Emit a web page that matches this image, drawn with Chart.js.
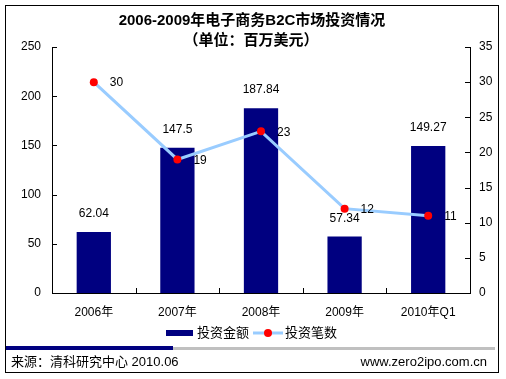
<!DOCTYPE html>
<html>
<head>
<meta charset="utf-8">
<script src="https://cdn.jsdelivr.net/npm/chart.js@4/dist/chart.umd.min.js"></script>
<style>
html,body{margin:0;padding:0;background:#fff;}
#wrap{position:absolute;left:0;top:0;width:506px;height:379px;}
</style>
</head>
<body>
<div id="wrap"><canvas id="c" width="506" height="379"></canvas></div>
<script>
const categories = ['2006年', '2007年', '2008年', '2009年', '2010年Q1'];
const amountValues = [62.04, 147.5, 187.84, 57.34, 149.27];
const countValues = [30, 19, 23, 12, 11];
const leftTicks = [0, 50, 100, 150, 200, 250];
const rightTicks = [0, 5, 10, 15, 20, 25, 30, 35];
const titleText = '2006-2009年电子商务B2C市场投资情况';
const subtitleText = '（单位：百万美元）';
const legendLabels = ['投资金额', '投资笔数'];
const sourceText = '来源：清科研究中心 2010.06';
const siteText = 'www.zero2ipo.com.cn';

const NAVY = '#000080';
const LINEBLUE = '#99CCFF';
const RED = '#FF0000';
const FONT = "'Liberation Sans', Arial, 'Noto Sans CJK SC', sans-serif";

const decor = {
  id: 'decor',
  beforeDraw(chart) {
    const ctx = chart.ctx;
    ctx.save();
    ctx.fillStyle = '#fff';
    ctx.fillRect(0, 0, chart.width, chart.height);
    ctx.strokeStyle = '#000';
    ctx.lineWidth = 1;
    ctx.strokeRect(5.5, 5.5, 493, 367);
    ctx.fillStyle = '#000';
    ctx.textAlign = 'center';
    ctx.textBaseline = 'middle';
    ctx.font = 'bold 15px ' + FONT;
    ctx.fillText(titleText, 252, 21);
    ctx.fillText(subtitleText, 251, 41);
    ctx.restore();
  },
  afterDatasetDraw(chart, args) {
    if (args.index !== 0) return;
    const ctx = chart.ctx;
    ctx.save();
    ctx.fillStyle = '#000';
    ctx.font = '12px ' + FONT;
    ctx.textAlign = 'center';
    ctx.textBaseline = 'middle';
    args.meta.data.forEach((el, i) => {
      ctx.fillText(String(amountValues[i]), el.x, el.y - 18);
    });
    ctx.restore();
  },
  afterDatasetsDraw(chart) {
    const ctx = chart.ctx;
    const meta = chart.getDatasetMeta(1);
    ctx.save();
    ctx.fillStyle = '#000';
    ctx.font = '12px ' + FONT;
    ctx.textAlign = 'left';
    ctx.textBaseline = 'middle';
    meta.data.forEach((el, i) => {
      ctx.fillText(String(countValues[i]), el.x + 16, el.y + 1);
    });
    ctx.restore();
  },
  afterDraw(chart) {
    const ctx = chart.ctx;
    const ca = chart.chartArea;
    const ys = chart.scales.y, y1 = chart.scales.y1, xs = chart.scales.x;
    ctx.save();
    ctx.strokeStyle = '#000';
    ctx.lineWidth = 1;
    ctx.beginPath();
    leftTicks.forEach(v => {
      const py = Math.round(ys.getPixelForValue(v)) + 0.5;
      ctx.moveTo(ca.left, py); ctx.lineTo(ca.left + 5, py);
    });
    rightTicks.forEach(v => {
      const py = Math.round(y1.getPixelForValue(v)) + 0.5;
      ctx.moveTo(ca.right, py); ctx.lineTo(ca.right - 5, py);
    });
    for (let i = 1; i < categories.length; i++) {
      const px = Math.round((xs.getPixelForTick(i - 1) + xs.getPixelForTick(i)) / 2) + 0.5;
      ctx.moveTo(px, ca.bottom); ctx.lineTo(px, ca.bottom - 5);
    }
    ctx.stroke();

    // legend
    const ly = 333;
    ctx.fillStyle = NAVY;
    ctx.fillRect(166, ly - 3, 27, 6);
    ctx.fillStyle = '#000';
    ctx.font = '13px ' + FONT;
    ctx.textAlign = 'left';
    ctx.textBaseline = 'middle';
    ctx.fillText(legendLabels[0], 197, ly);
    ctx.strokeStyle = LINEBLUE;
    ctx.lineWidth = 3;
    ctx.beginPath();
    ctx.moveTo(253, ly); ctx.lineTo(283, ly);
    ctx.stroke();
    ctx.fillStyle = RED;
    ctx.beginPath();
    ctx.arc(268, ly, 4, 0, Math.PI * 2);
    ctx.fill();
    ctx.fillStyle = '#000';
    ctx.fillText(legendLabels[1], 285, ly);

    // separator
    ctx.fillStyle = '#C0C0C0';
    ctx.fillRect(173, 347, 322, 3);
    ctx.fillStyle = NAVY;
    ctx.fillRect(6, 346, 167, 4);

    // footer
    ctx.fillStyle = '#000';
    ctx.font = '13px ' + FONT;
    ctx.textAlign = 'left';
    ctx.fillText(sourceText, 11, 362);
    ctx.textAlign = 'right';
    ctx.fillText(siteText, 487, 362);
    ctx.restore();
  }
};

new Chart(document.getElementById('c'), {
  data: {
    labels: categories,
    datasets: [
      {
        type: 'bar',
        label: legendLabels[0],
        data: amountValues,
        backgroundColor: NAVY,
        yAxisID: 'y',
        order: 1,
        categoryPercentage: 1,
        barPercentage: 0.41
      },
      {
        type: 'line',
        label: legendLabels[1],
        data: countValues,
        borderColor: LINEBLUE,
        borderWidth: 3,
        pointBackgroundColor: RED,
        pointBorderColor: RED,
        pointRadius: 4,
        pointBorderWidth: 0,
        tension: 0,
        yAxisID: 'y1',
        order: 0
      }
    ]
  },
  options: {
    responsive: false,
    animation: false,
    devicePixelRatio: 1,
    layout: { padding: { left: 0, right: 0, top: 47, bottom: 0 } },
    plugins: { legend: { display: false }, tooltip: { enabled: false }, title: { display: false } },
    scales: {
      x: {
        type: 'category',
        offset: true,
        grid: { display: false, drawTicks: false },
        border: { display: true, color: '#000', width: 1 },
        ticks: { color: '#000', font: { size: 12, family: FONT }, padding: 12, maxRotation: 0 },
        afterFit(s) { s.height = 86; }
      },
      y: {
        position: 'left',
        min: 0, max: 250,
        afterBuildTicks(s) { s.ticks = leftTicks.map(v => ({ value: v })); },
        grid: { display: false, drawTicks: false },
        border: { display: true, color: '#000', width: 1 },
        ticks: { color: '#000', font: { size: 12, family: FONT }, padding: 11 },
        afterFit(s) { s.width = 52; }
      },
      y1: {
        position: 'right',
        min: 0, max: 35,
        afterBuildTicks(s) { s.ticks = rightTicks.map(v => ({ value: v })); },
        grid: { display: false, drawTicks: false },
        border: { display: true, color: '#000', width: 1 },
        ticks: { color: '#000', font: { size: 12, family: FONT }, padding: 9 },
        afterFit(s) { s.width = 36; }
      }
    }
  },
  plugins: [decor]
});
</script>
</body>
</html>
